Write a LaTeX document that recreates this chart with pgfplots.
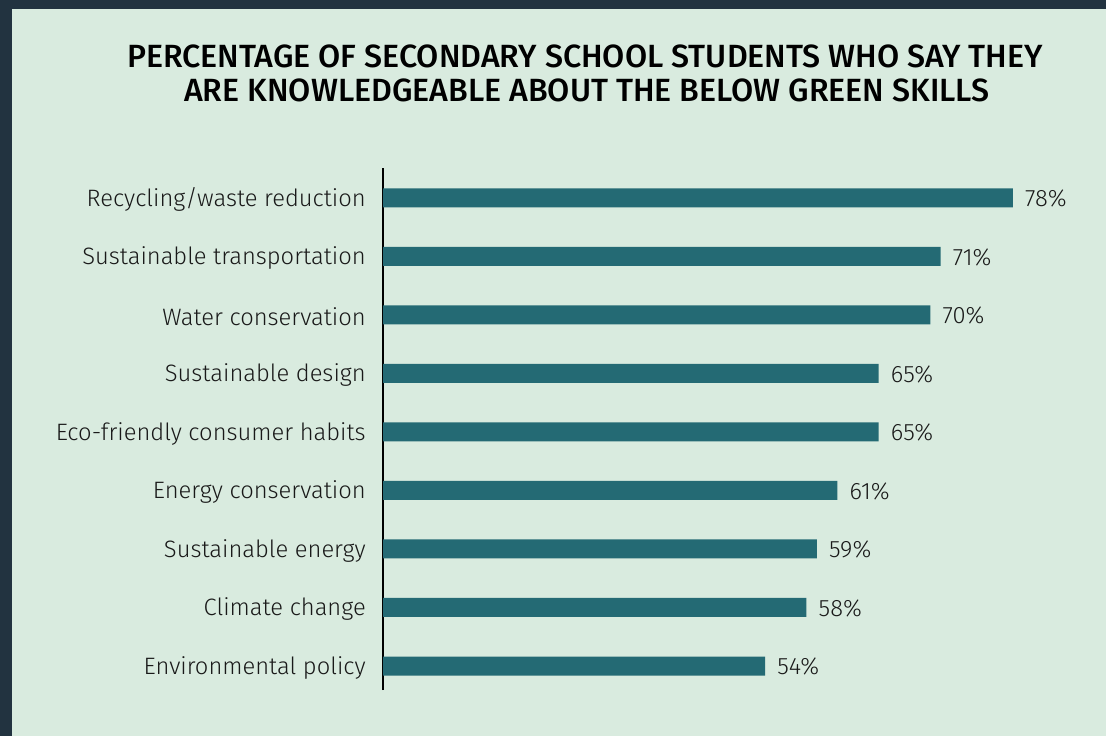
\documentclass[border=0pt]{standalone}
\usepackage{fontspec}
\setmainfont{Fira Sans}[UprightFont={* Light}, BoldFont={* Medium}]
\usepackage{pgfplots}
\pgfplotsset{compat=1.18}
\definecolor{bgc}{RGB}{217,235,223}
\definecolor{framec}{RGB}{34,51,64}
\definecolor{barc}{RGB}{36,106,116}
\definecolor{txt}{RGB}{25,25,25}
\begin{document}
\begin{tikzpicture}
\fill[framec] (0,0) rectangle (829.5pt,552pt);
\fill[bgc] (9pt,0) rectangle (829.5pt,545.25pt);
\node[anchor=base, font=\fontsize{24.1}{28}\selectfont\bfseries, text=black, inner sep=0pt] at (438.75pt,501pt) {PERCENTAGE OF SECONDARY SCHOOL STUDENTS WHO SAY THEY};
\node[anchor=base, font=\fontsize{24.1}{28}\selectfont\bfseries, text=black, inner sep=0pt] at (440.25pt,475.5pt) {ARE KNOWLEDGEABLE ABOUT THE BELOW GREEN SKILLS};
\begin{axis}[
  at={(287.25pt,34.5pt)}, anchor=south west,
  scale only axis,
  width=534.45pt, height=391.5pt,
  xbar, bar width=14.25pt,
  xmin=17, xmax=86,
  ymin=-0.41, ymax=8.51,
  axis x line=none,
  axis y line*=left,
  y axis line style={black, line width=0.9pt, -},
  ytick={0,...,8},
  yticklabels={Environmental policy,Climate change,Sustainable energy,Energy conservation,Eco-friendly consumer habits,Sustainable design,Water conservation,Sustainable transportation,Recycling/waste reduction},
  major tick length=0pt,
  yticklabel style={font=\fontsize{17.8}{20}\selectfont, text=txt, inner sep=0pt, xshift=-12.75pt, yshift=-1.2pt},
  nodes near coords={\pgfplotspointmeta\%},
  nodes near coords style={font=\fontsize{17.8}{20}\selectfont, text=txt, anchor=west, inner sep=0pt, xshift=9pt, yshift=-0.6pt},
  point meta=explicit symbolic,
  clip=false,
]
\addplot[fill=barc, draw=none] coordinates {
  (54,0) [54] (58,1) [58] (59,2) [59] (61,3) [61] (65,4) [65] (65,5) [65] (70,6) [70] (71,7) [71] (78,8) [78]
};
\end{axis}
\end{tikzpicture}
\end{document}
